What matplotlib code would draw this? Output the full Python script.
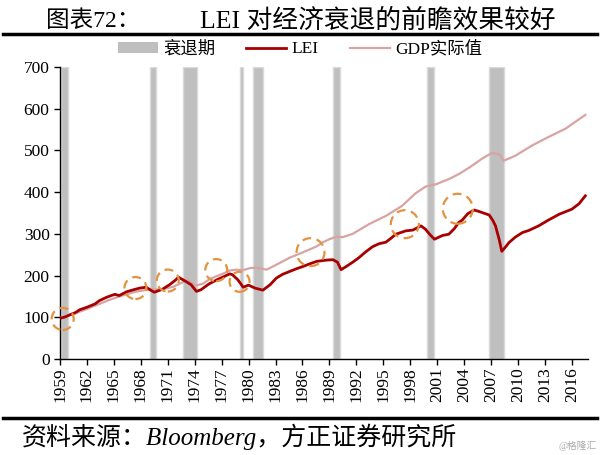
import matplotlib.pyplot as plt
from matplotlib.lines import Line2D
from matplotlib.patches import Patch, Ellipse

# recession periods (start, end)
rec_start = [1959.1, 1969.0, 1972.7, 1979.0, 1980.5, 1989.4, 1999.9, 2006.8]
rec_end = [1959.85, 1969.7, 1974.3, 1979.4, 1981.6, 1990.2, 2000.7, 2008.45]

lei_year = [1959.1, 1959.6, 1960.1, 1960.7, 1961.2, 1962.0, 1962.9, 1963.4, 1964.2, 1965.1,
            1965.6, 1966.4, 1967.2, 1967.9, 1968.6, 1969.1, 1969.5, 1970.4, 1971.2, 1971.8,
            1972.2, 1973.0, 1973.6, 1974.2, 1974.7, 1975.6, 1976.5, 1977.2, 1977.9, 1978.2,
            1978.8, 1979.4, 1980.0, 1980.7, 1981.6, 1982.4, 1983.1, 1983.8, 1984.6, 1985.3,
            1986.1, 1986.8, 1987.6, 1988.7, 1989.4, 1989.9, 1990.3, 1990.9, 1991.6, 1992.3,
            1993.0, 1993.8, 1994.5, 1995.3, 1995.9, 1996.4, 1997.5, 1998.3, 1999.2, 1999.7,
            2000.2, 2000.7, 2001.6, 2002.3, 2002.9, 2003.4, 2003.8, 2004.4, 2005.1, 2005.6,
            2006.0, 2006.8, 2007.2, 2007.5, 2007.9, 2008.2, 2008.6, 2009.0, 2009.7, 2010.5,
            2011.2, 2012.3, 2013.4, 2014.6, 2015.3, 2016.0, 2016.8, 2017.5]
lei_value = [98, 101, 106, 111, 118, 124, 132, 140, 148, 155,
             152, 161, 166, 170, 172, 165, 160, 167, 178, 188,
             196, 186, 178, 162, 166, 180, 190, 197, 204, 202,
             190, 172, 177, 170, 165, 178, 194, 203, 210, 216,
             222, 228, 234, 237, 238, 232, 214, 222, 232, 243,
             256, 269, 276, 280, 290, 299, 307, 309, 319, 311,
             298, 287, 296, 299, 312, 327, 333, 348, 357, 354,
             351, 345, 332, 319, 287, 258, 268, 279, 292, 303,
             308, 319, 333, 347, 353, 359, 372, 391]

gdp_year = [1959.1, 1960.0, 1960.8, 1962.0, 1963.4, 1964.3, 1965.1, 1966.4, 1967.2, 1967.9,
            1968.8, 1969.5, 1970.4, 1971.6, 1972.5, 1973.2, 1974.1, 1974.9, 1975.7, 1976.4,
            1977.2, 1977.9, 1978.6, 1979.4, 1980.2, 1980.9, 1982.0, 1983.1, 1984.6, 1985.3,
            1986.1, 1987.6, 1988.3, 1989.1, 1989.8, 1990.5, 1991.6, 1993.4, 1995.3, 1997.1,
            1998.6, 1999.7, 2000.9, 2002.3, 2003.4, 2004.6, 2006.0, 2007.1, 2007.9, 2008.4,
            2009.7, 2011.6, 2013.4, 2015.3, 2017.5]
gdp_value = [99, 104, 110, 120, 132, 140, 146, 155, 160, 163,
             166, 167, 167, 173, 182, 189, 176, 180, 192, 198,
             205, 212, 214, 213, 218, 219, 214, 226, 243, 249,
             256, 270, 280, 288, 293, 292, 300, 323, 343, 367,
             397, 413, 419, 431, 443, 459, 480, 494, 491, 475,
             487, 512, 532, 552, 585]

# highlighted turning points (year, value, radius in px)
circ_year = [1959.3, 1967.4, 1971.0, 1976.4, 1979.0, 1986.9, 1997.4, 2003.3]
circ_value = [96, 170, 188, 213, 185, 256, 323, 360]
circ_r = [11, 11, 11, 11, 10, 14, 14, 15]

year_ticks = list(range(1959, 2017, 3))

FONT = ['Liberation Serif', 'Noto Sans CJK SC']

plt.rcParams['font.family'] = FONT

fig = plt.figure(figsize=(6, 4.55), dpi=100)
ax = fig.add_axes([0.1, 0.211, 0.88, 0.642])

for s, e in zip(rec_start, rec_end):
    ax.axvspan(s, e, facecolor='#BFBFBF', edgecolor='#DADADA', lw=1, zorder=1)

ax.plot(gdp_year, gdp_value, color='#D9A3A3', lw=1.6, zorder=3)
ax.plot(lei_year, lei_value, color='#A80000', lw=2.0, zorder=4)

# px -> data units: 9 px per year, 292/700 px per unit
for x, y, r in zip(circ_year, circ_value, circ_r):
    ax.add_patch(Ellipse((x, y), 2 * r / 9.0, 2 * r / (292 / 700), fill=False,
                         edgecolor='#E39240', lw=1.6, ls=(0, (4, 2.5)), zorder=5,
                         clip_on=False))

ax.set_xlim(1959, 2017.8)
ax.set_ylim(0, 700)
ax.set_yticks(range(0, 701, 100))
ax.set_xticks(year_ticks)
ax.set_xticklabels([str(y) for y in year_ticks], rotation=90)
ax.tick_params(axis='both', labelsize=12.5, direction='out', length=4, width=1, colors='black')
ax.tick_params(axis='x', pad=2)
for side in ['top', 'right']:
    ax.spines[side].set_visible(False)
for side in ['left', 'bottom']:
    ax.spines[side].set_color('black')
    ax.spines[side].set_linewidth(1)

# title and rules
fig.text(46 / 600, 1 - 21 / 455, '图表72：', fontsize=17, va='center', ha='left')
fig.text(200 / 600, 1 - 21 / 455, 'LEI 对经济衰退的前瞻效果较好', fontsize=18.5, va='center', ha='left')
fig.add_artist(Line2D([0.005, 0.995], [1 - 34 / 455] * 2, color='black', lw=2.5,
                      transform=fig.transFigure))
fig.add_artist(Line2D([0.005, 0.995], [1 - 418 / 455] * 2, color='black', lw=2.5,
                      transform=fig.transFigure))

handles = [Patch(facecolor='#BFBFBF', edgecolor='none'),
           Line2D([], [], color='#A80000', lw=2.0),
           Line2D([], [], color='#D9A3A3', lw=1.6)]
fig.legend(handles, ['衰退期', 'LEI', 'GDP实际值'], loc='center', bbox_to_anchor=(0.5, 1 - 49 / 455),
           ncol=3, frameon=False, fontsize=12.5, handlelength=2.3, handleheight=0.6,
           handletextpad=0.3, columnspacing=1.8)

fig.text(22 / 600, 1 - 437 / 455, '资料来源：Bloomberg，方正证券研究所', fontsize=18,
         style='italic', va='center', ha='left')
fig.text(0.995, 1 - 446 / 455, '@格隆汇', fontsize=7, color='#AAAAAA', va='center', ha='right')

fig.savefig('out.png', dpi=100)
